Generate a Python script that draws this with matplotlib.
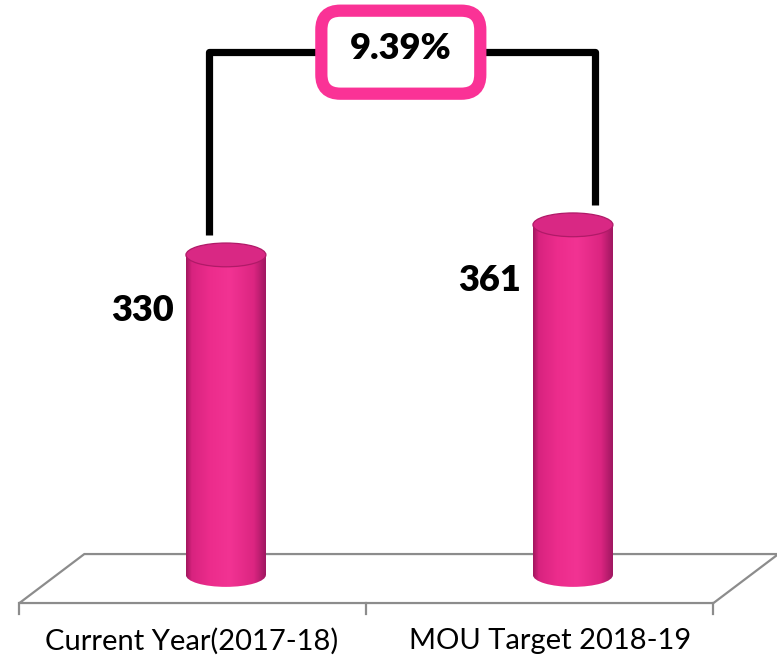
import matplotlib.pyplot as plt
import numpy as np
from matplotlib.patches import Rectangle, Ellipse, Polygon, FancyBboxPatch
from matplotlib.colors import LinearSegmentedColormap

# data
categories = ['Current Year(2017-18)', 'MOU Target 2018-19']
values = [330, 361]
growth = (values[1] - values[0]) / values[0] * 100  # 9.39 %

plt.rcParams['font.family'] = ['Lato', 'DejaVu Sans']

fig = plt.figure(figsize=(7.77, 6.62), dpi=100)
ax = fig.add_axes([0, 0, 1, 1])
ax.set_xlim(-0.651, 1.588)
ax.set_ylim(-89.7, 592.8)
ax.axis('off')

pos = np.arange(len(values))

# 3D-ish floor
shift, depth, back_y, front_y = -0.095, 0.187, 21.6, -28.9
fx0, fx1 = pos[0] - 0.5 + shift, pos[-1] + 0.5 + shift
floor = Polygon([[fx0, front_y], [fx1, front_y], [fx1 + depth, back_y], [fx0 + depth, back_y]],
                closed=True, facecolor='white', edgecolor='#8c8c8c', lw=1.6, zorder=1)
ax.add_patch(floor)
for t in np.arange(len(values) + 1) - 0.5 + shift:
    ax.plot([t, t], [front_y, front_y - 11], color='#8c8c8c', lw=1.6, zorder=1)

# cylinders
cmap = LinearSegmentedColormap.from_list('cyl', [
    (0.0, '#a3175f'), (0.07, '#d8237f'), (0.3, '#ec2c8c'),
    (0.55, '#f23393'), (0.85, '#dc2581'), (1.0, '#a01761')])
grad = np.linspace(0, 1, 200).reshape(1, -1)
w, eh = 0.2305, 24.5
for p, v in zip(pos, values):
    ext = [p - w / 2, p + w / 2, -eh / 2, v]
    body = Rectangle((p - w / 2, 0), w, v, transform=ax.transData)
    bottom = Ellipse((p, 0), w, eh, transform=ax.transData)
    for clip in (body, bottom):
        im = ax.imshow(grad, cmap=cmap, extent=ext, aspect='auto', zorder=3)
        im.set_clip_path(clip)
    ax.add_patch(Ellipse((p, v), w, eh, facecolor='#d92884', edgecolor='#b01a68', lw=0.9, zorder=4))
    ax.text(p - 0.24, v - 57, str(v), ha='center', va='center',
            fontsize=26, fontweight='heavy', color='black', zorder=5)

# bracket between bars
top = 539
lx, rx = pos[0] - 0.049, pos[1] + 0.063
ax.plot([lx, lx, rx, rx], [values[0] + 20.5, top, top, values[1] + 20],
        color='black', lw=5.2, solid_joinstyle='round', solid_capstyle='butt', zorder=2)

bx, bw, bh = 0.504, 0.458, 85.6
box = FancyBboxPatch((bx - bw / 2, top - bh / 2), bw, bh,
                     boxstyle='round,pad=0,rounding_size=0.055', mutation_aspect=357.7,
                     facecolor='white', edgecolor='#fa3296', lw=8.8, zorder=6)
ax.add_patch(box)
ax.text(bx, top + 4, f'{growth:.2f}%', ha='center', va='center',
        fontsize=26, fontweight='heavy', color='black', zorder=7)

# category labels
for p, c, off in zip(pos, categories, [-0.098, -0.066]):
    ax.text(p + off, -68, c, ha='center', va='center', fontsize=21, color='black')

fig.savefig('out.png', dpi=100)
